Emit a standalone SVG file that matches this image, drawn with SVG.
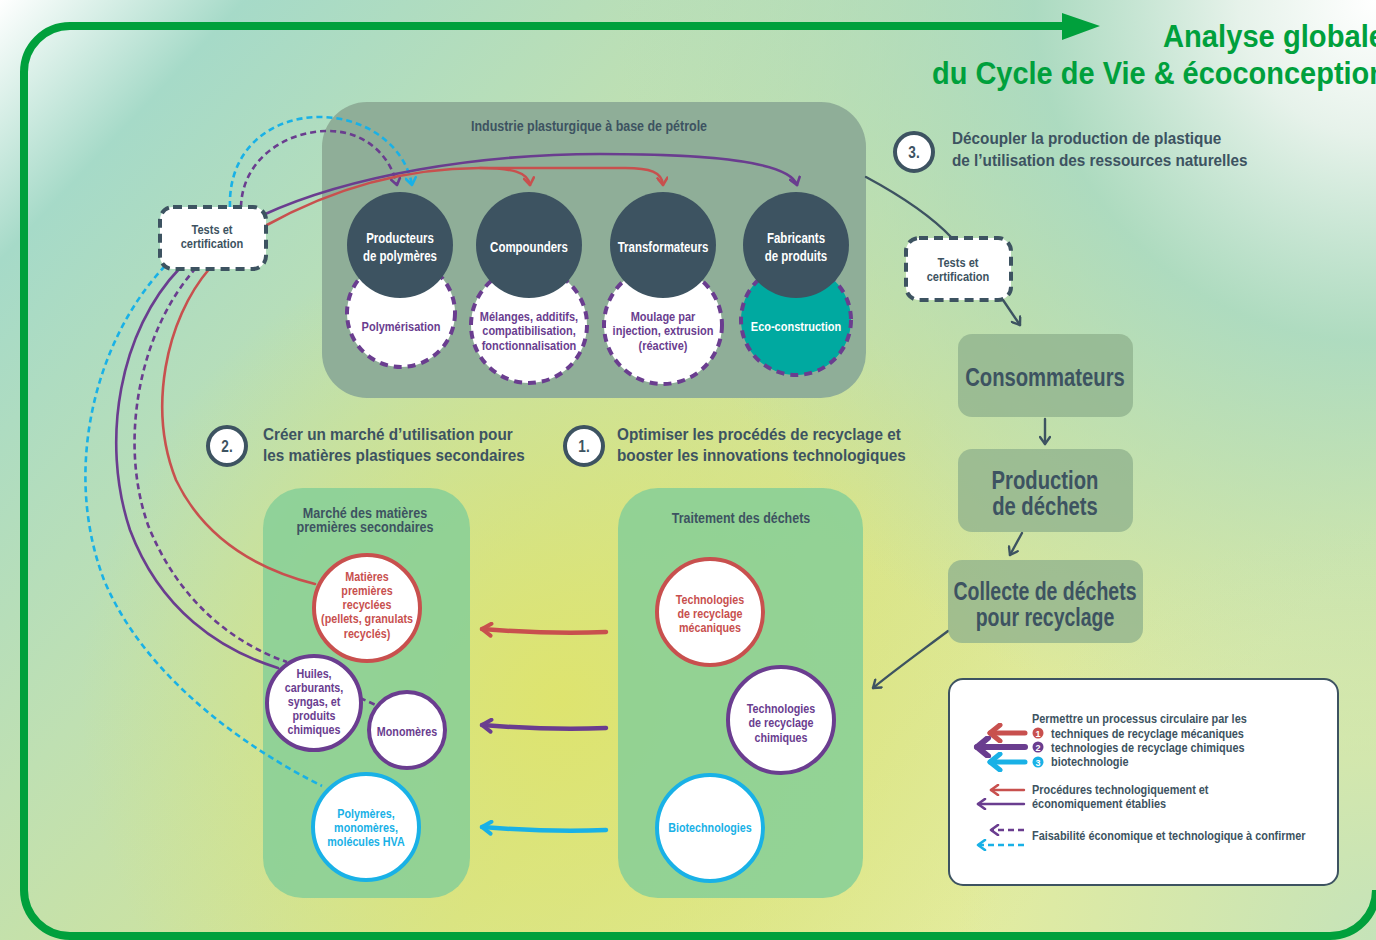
<svg xmlns="http://www.w3.org/2000/svg" width="1376" height="940" viewBox="0 0 1376 940">
<defs>
<linearGradient id="bg" x1="0" y1="0" x2="1000" y2="940" gradientUnits="userSpaceOnUse">
<stop offset="0" stop-color="#ffffff"/>
<stop offset="0.13" stop-color="#a6dac8"/>
<stop offset="0.4" stop-color="#bfe0b2"/>
<stop offset="0.7" stop-color="#d6e494"/>
<stop offset="1" stop-color="#e4ec9e"/>
</linearGradient>
<radialGradient id="yel" cx="560" cy="700" r="480" gradientUnits="userSpaceOnUse">
<stop offset="0" stop-color="#dfe46a" stop-opacity="0.9"/>
<stop offset="1" stop-color="#dfe46a" stop-opacity="0"/>
</radialGradient>
<radialGradient id="tr" cx="1376" cy="0" r="760" gradientUnits="userSpaceOnUse">
<stop offset="0" stop-color="#ffffff"/>
<stop offset="0.18" stop-color="#e6f2ea"/>
<stop offset="0.45" stop-color="#a6d9c6" stop-opacity="0.85"/>
<stop offset="1" stop-color="#a6d9c6" stop-opacity="0"/>
</radialGradient>
<radialGradient id="br" cx="1376" cy="940" r="420" gradientUnits="userSpaceOnUse">
<stop offset="0" stop-color="#c2e2bc" stop-opacity="0.9"/>
<stop offset="1" stop-color="#c2e2bc" stop-opacity="0"/>
</radialGradient>
<marker id="mR" viewBox="0 0 12 12" refX="10" refY="6" markerWidth="12" markerHeight="12" orient="auto" markerUnits="userSpaceOnUse"><path d="M3,1 L10,6 L3,11" fill="none" stroke="#c8504e" stroke-width="2.6" stroke-linecap="round" stroke-linejoin="round"/></marker>
<marker id="mP" viewBox="0 0 12 12" refX="10" refY="6" markerWidth="12" markerHeight="12" orient="auto" markerUnits="userSpaceOnUse"><path d="M3,1 L10,6 L3,11" fill="none" stroke="#6a3d8f" stroke-width="2.6" stroke-linecap="round" stroke-linejoin="round"/></marker>
<marker id="mC" viewBox="0 0 12 12" refX="10" refY="6" markerWidth="12" markerHeight="12" orient="auto" markerUnits="userSpaceOnUse"><path d="M3,1 L10,6 L3,11" fill="none" stroke="#19b1e6" stroke-width="2.6" stroke-linecap="round" stroke-linejoin="round"/></marker>
<marker id="mD" viewBox="0 0 12 12" refX="10" refY="6" markerWidth="12" markerHeight="12" orient="auto" markerUnits="userSpaceOnUse"><path d="M3,1 L10,6 L3,11" fill="none" stroke="#3d5361" stroke-width="2.4" stroke-linecap="round" stroke-linejoin="round"/></marker>
<marker id="mRb" viewBox="0 0 16 16" refX="13" refY="8" markerWidth="16" markerHeight="16" orient="auto" markerUnits="userSpaceOnUse"><path d="M4,2 L13,8 L4,14" fill="none" stroke="#c8504e" stroke-width="4" stroke-linecap="round" stroke-linejoin="round"/></marker>
<marker id="mPb" viewBox="0 0 16 16" refX="13" refY="8" markerWidth="16" markerHeight="16" orient="auto" markerUnits="userSpaceOnUse"><path d="M4,2 L13,8 L4,14" fill="none" stroke="#6a3d8f" stroke-width="4" stroke-linecap="round" stroke-linejoin="round"/></marker>
<marker id="mCb" viewBox="0 0 16 16" refX="13" refY="8" markerWidth="16" markerHeight="16" orient="auto" markerUnits="userSpaceOnUse"><path d="M4,2 L13,8 L4,14" fill="none" stroke="#19b1e6" stroke-width="4" stroke-linecap="round" stroke-linejoin="round"/></marker>
<marker id="mRL" viewBox="0 0 20 20" refX="16" refY="10" markerWidth="20" markerHeight="20" orient="auto" markerUnits="userSpaceOnUse"><path d="M6,2 L16,10 L6,18" fill="none" stroke="#c8504e" stroke-width="5" stroke-linecap="round" stroke-linejoin="round"/></marker>
<marker id="mPL" viewBox="0 0 22 22" refX="17" refY="11" markerWidth="22" markerHeight="22" orient="auto" markerUnits="userSpaceOnUse"><path d="M6,2 L17,11 L6,20" fill="none" stroke="#6a3d8f" stroke-width="6" stroke-linecap="round" stroke-linejoin="round"/></marker>
<marker id="mCL" viewBox="0 0 20 20" refX="16" refY="10" markerWidth="20" markerHeight="20" orient="auto" markerUnits="userSpaceOnUse"><path d="M6,2 L16,10 L6,18" fill="none" stroke="#19b1e6" stroke-width="5" stroke-linecap="round" stroke-linejoin="round"/></marker>
</defs>
<style>
text{font-family:"Liberation Sans",Arial,sans-serif;font-weight:bold}
.dk{fill:#3d5361}
.wt{fill:#ffffff}
.pu{fill:#6a3d8f}
.rd{fill:#c8504e}
.cy{fill:#19b1e6}
.c14{font-size:14px}
.c13{font-size:13px}
.c12{font-size:12.5px}
.lg{font-size:12px}
.mid{text-anchor:middle}
.hd{font-size:17px}
.big{font-size:25px}
.ttl{font-size:31px;fill:#00a03c}
.dark{fill:#3d5361}
.dash{fill:none;stroke:#6a3d8f;stroke-width:4;stroke-dasharray:8 6}
.tests{fill:#ffffff;stroke:#3d5361;stroke-width:4;stroke-dasharray:9 6}
.rc{fill:#ffffff;stroke:#c8504e;stroke-width:4}
.pc{fill:#ffffff;stroke:#6a3d8f;stroke-width:4}
.cc{fill:#ffffff;stroke:#19b1e6;stroke-width:4}
.num{fill:#ffffff;stroke:#3d5361;stroke-width:4}
.rbox{fill:#8db08c;fill-opacity:0.75}
.mbox{fill:#86cf98;fill-opacity:0.85}
.cr{fill:none;stroke:#c8504e;stroke-width:2.6;stroke-linecap:round}
.cp{fill:none;stroke:#6a3d8f;stroke-width:2.6;stroke-linecap:round}
.cpd{fill:none;stroke:#6a3d8f;stroke-width:2.6;stroke-dasharray:6 4}
.ccd{fill:none;stroke:#19b1e6;stroke-width:2.6;stroke-dasharray:6 4}
.cd{fill:none;stroke:#3d5361;stroke-width:2.4;stroke-linecap:round}
</style>
<rect width="1376" height="940" fill="url(#bg)"/>
<rect width="1376" height="940" fill="url(#yel)"/>
<rect width="1376" height="940" fill="url(#tr)"/>
<rect width="1376" height="940" fill="url(#br)"/>

<g id="frame">
<path d="M1066,26 H70 A46,46 0 0 0 24,72 V890 A46,46 0 0 0 70,936 H1330 A46,46 0 0 0 1376,890" fill="none" stroke="#00a03c" stroke-width="8"/>
<path d="M1062,13 L1100,26 L1062,40 Z" fill="#00a03c"/>
<text x="1163" y="47" class="ttl" textLength="222" lengthAdjust="spacingAndGlyphs">Analyse globale</text>
<text x="932" y="84" class="ttl" textLength="455" lengthAdjust="spacingAndGlyphs">du Cycle de Vie &amp; écoconception</text>
</g>

<g id="industrie">
<rect x="322" y="102" width="544" height="296" rx="45" fill="#8fae98"/>
<text transform="translate(589,131) scale(.89,1)" class="dk c14 mid">Industrie plasturgique à base de pétrole</text>
</g>

<g id="polymerisation">
<circle cx="401" cy="313" r="54" class="dash" style="fill:#fff"/>
<text transform="translate(401,331) scale(.88,1)" class="pu c12 mid">Polymérisation</text>
</g>
<g id="melanges">
<circle cx="529" cy="325" r="58" class="dash" style="fill:#fff"/>
<text transform="translate(529,321) scale(.88,1)" class="pu c12 mid">Mélanges, additifs,</text>
<text transform="translate(529,335) scale(.88,1)" class="pu c12 mid">compatibilisation,</text>
<text transform="translate(529,350) scale(.88,1)" class="pu c12 mid">fonctionnalisation</text>
</g>
<g id="moulage">
<circle cx="663" cy="325" r="59" class="dash" style="fill:#fff"/>
<text transform="translate(663,321) scale(.88,1)" class="pu c12 mid">Moulage par</text>
<text transform="translate(663,335) scale(.88,1)" class="pu c12 mid">injection, extrusion</text>
<text transform="translate(663,350) scale(.88,1)" class="pu c12 mid">(réactive)</text>
</g>
<g id="eco">
<circle cx="796" cy="320" r="55" class="dash" style="fill:#00a9a0"/>
<text transform="translate(796,331) scale(.88,1)" class="wt c12 mid">Eco-construction</text>
</g>

<g id="producteurs">
<circle cx="400" cy="245" r="53" class="dark"/>
<text transform="translate(400,243) scale(.82,1)" class="wt c14 mid">Producteurs</text>
<text transform="translate(400,261) scale(.82,1)" class="wt c14 mid">de polymères</text>
</g>
<g id="compounders">
<circle cx="529" cy="245" r="53" class="dark"/>
<text transform="translate(529,252) scale(.82,1)" class="wt c14 mid">Compounders</text>
</g>
<g id="transformateurs">
<circle cx="663" cy="245" r="53" class="dark"/>
<text transform="translate(663,252) scale(.82,1)" class="wt c14 mid">Transformateurs</text>
</g>
<g id="fabricants">
<circle cx="796" cy="245" r="53" class="dark"/>
<text transform="translate(796,243) scale(.82,1)" class="wt c14 mid">Fabricants</text>
<text transform="translate(796,261) scale(.82,1)" class="wt c14 mid">de produits</text>
</g>

<g id="marche">
<rect x="263" y="488" width="207" height="410" rx="40" class="mbox"/>
<text transform="translate(365,518) scale(.9,1)" class="dk c14 mid">Marché des matières</text>
<text transform="translate(365,532) scale(.9,1)" class="dk c14 mid">premières secondaires</text>
</g>
<g id="traitement">
<rect x="618" y="488" width="245" height="410" rx="40" class="mbox"/>
<text transform="translate(741,523) scale(.89,1)" class="dk c14 mid">Traitement des déchets</text>
</g>

<g id="connectors">
<path d="M866,177 C905,198 935,220 952,238" class="cd"/>
<path d="M1003,300 L1020,325" class="cd" marker-end="url(#mD)"/>
<path d="M1045,419 L1045,444" class="cd" marker-end="url(#mD)"/>
<path d="M1022,533 L1010,555" class="cd" marker-end="url(#mD)"/>
<path d="M948,631 C920,652 895,670 873,688" class="cd" marker-end="url(#mD)"/>

<path d="M230,207 C228,150 270,117 320,117 C365,117 405,145 412,185" class="ccd" marker-end="url(#mC)"/>
<path d="M241,207 C242,160 285,131 328,131 C365,131 390,155 397,185" class="cpd" marker-end="url(#mP)"/>
<path d="M263,215 C350,175 480,154 600,154 C720,154 790,163 797,185" class="cp" marker-end="url(#mP)"/>
<path d="M265,226 C330,190 400,168 480,168 C512,168 528,172 530,185" class="cr" marker-end="url(#mR)"/>
<path d="M480,168 L625,168 C650,168 662,172 663,185" class="cr" marker-end="url(#mR)"/>

<path d="M165,266 C95,340 62,470 104,580 C146,680 250,750 322,786" class="ccd"/>
<path d="M180,268 C120,330 100,440 130,530 C160,610 220,650 278,668" class="cp"/>
<path d="M196,268 C140,330 118,440 148,525 C178,600 232,643 287,662" class="cpd"/>
<path d="M210,268 C165,320 148,410 176,480 C205,540 260,570 315,584" class="cr"/>
<path d="M360,698 L378,706" class="cpd"/>

<path d="M606,632 C560,634 520,632 482,629" fill="none" stroke="#c8504e" stroke-width="4.5" stroke-linecap="round" marker-end="url(#mRb)"/>
<path d="M606,728 C560,730 520,728 482,725" fill="none" stroke="#6a3d8f" stroke-width="4.5" stroke-linecap="round" marker-end="url(#mPb)"/>
<path d="M606,830 C560,832 520,830 482,827" fill="none" stroke="#19b1e6" stroke-width="4.5" stroke-linecap="round" marker-end="url(#mCb)"/>
</g>

<g id="tests-gauche">
<rect x="160" y="207" width="106" height="62" rx="13" class="tests"/>
<text transform="translate(212,234) scale(.85,1)" class="dk c13 mid">Tests et</text>
<text transform="translate(212,248) scale(.85,1)" class="dk c13 mid">certification</text>
</g>
<g id="tests-droite">
<rect x="906" y="238" width="105" height="62" rx="13" class="tests"/>
<text transform="translate(958,267) scale(.85,1)" class="dk c13 mid">Tests et</text>
<text transform="translate(958,281) scale(.85,1)" class="dk c13 mid">certification</text>
</g>

<g id="objectif3">
<circle cx="914" cy="152" r="19" class="num"/>
<text transform="translate(914,158) scale(.85,1)" class="dk mid" style="font-size:16px">3.</text>
<text transform="translate(952,144) scale(.9,1)" class="dk hd">Découpler la production de plastique</text>
<text transform="translate(952,166) scale(.9,1)" class="dk hd">de l’utilisation des ressources naturelles</text>
</g>
<g id="objectif2">
<circle cx="227" cy="446" r="19" class="num"/>
<text transform="translate(227,452) scale(.85,1)" class="dk mid" style="font-size:16px">2.</text>
<text transform="translate(263,440) scale(.9,1)" class="dk hd">Créer un marché d’utilisation pour</text>
<text transform="translate(263,461) scale(.9,1)" class="dk hd">les matières plastiques secondaires</text>
</g>
<g id="objectif1">
<circle cx="584" cy="446" r="19" class="num"/>
<text transform="translate(584,452) scale(.85,1)" class="dk mid" style="font-size:16px">1.</text>
<text transform="translate(617,440) scale(.9,1)" class="dk hd">Optimiser les procédés de recyclage et</text>
<text transform="translate(617,461) scale(.9,1)" class="dk hd">booster les innovations technologiques</text>
</g>

<g id="consommateurs">
<rect x="958" y="334" width="175" height="83" rx="14" class="rbox"/>
<text transform="translate(1045,386) scale(.81,1)" class="dk big mid">Consommateurs</text>
</g>
<g id="production">
<rect x="958" y="449" width="175" height="83" rx="14" class="rbox"/>
<text transform="translate(1045,489) scale(.81,1)" class="dk big mid">Production</text>
<text transform="translate(1045,515) scale(.81,1)" class="dk big mid">de déchets</text>
</g>
<g id="collecte">
<rect x="948" y="560" width="195" height="83" rx="14" class="rbox"/>
<text transform="translate(1045,600) scale(.78,1)" class="dk big mid">Collecte de déchets</text>
<text transform="translate(1045,626) scale(.78,1)" class="dk big mid">pour recyclage</text>
</g>

<g id="matieres">
<circle cx="367" cy="608" r="53" class="rc"/>
<text transform="translate(367,581) scale(.86,1)" class="rd c12 mid">Matières</text>
<text transform="translate(367,595) scale(.86,1)" class="rd c12 mid">premières</text>
<text transform="translate(367,609) scale(.86,1)" class="rd c12 mid">recyclées</text>
<text transform="translate(367,623) scale(.86,1)" class="rd c12 mid">(pellets, granulats</text>
<text transform="translate(367,638) scale(.86,1)" class="rd c12 mid">recyclés)</text>
</g>
<g id="huiles">
<circle cx="314" cy="703" r="47" class="pc"/>
<text transform="translate(314,678) scale(.86,1)" class="pu c12 mid">Huiles,</text>
<text transform="translate(314,692) scale(.86,1)" class="pu c12 mid">carburants,</text>
<text transform="translate(314,706) scale(.86,1)" class="pu c12 mid">syngas, et</text>
<text transform="translate(314,720) scale(.86,1)" class="pu c12 mid">produits</text>
<text transform="translate(314,734) scale(.86,1)" class="pu c12 mid">chimiques</text>
</g>
<g id="monomeres">
<circle cx="407" cy="730" r="38" class="pc"/>
<text transform="translate(407,736) scale(.86,1)" class="pu c12 mid">Monomères</text>
</g>
<g id="polymeres">
<circle cx="366" cy="827" r="53" class="cc"/>
<text transform="translate(366,818) scale(.86,1)" class="cy c12 mid">Polymères,</text>
<text transform="translate(366,832) scale(.86,1)" class="cy c12 mid">monomères,</text>
<text transform="translate(366,846) scale(.86,1)" class="cy c12 mid">molécules HVA</text>
</g>

<g id="tech-meca">
<circle cx="710" cy="612" r="53" class="rc"/>
<text transform="translate(710,604) scale(.86,1)" class="rd c12 mid">Technologies</text>
<text transform="translate(710,618) scale(.86,1)" class="rd c12 mid">de recyclage</text>
<text transform="translate(710,632) scale(.86,1)" class="rd c12 mid">mécaniques</text>
</g>
<g id="tech-chim">
<circle cx="781" cy="720" r="53" class="pc"/>
<text transform="translate(781,713) scale(.86,1)" class="pu c12 mid">Technologies</text>
<text transform="translate(781,727) scale(.86,1)" class="pu c12 mid">de recyclage</text>
<text transform="translate(781,742) scale(.86,1)" class="pu c12 mid">chimiques</text>
</g>
<g id="biotech">
<circle cx="710" cy="828" r="53" class="cc"/>
<text transform="translate(710,832) scale(.86,1)" class="cy c12 mid">Biotechnologies</text>
</g>

<g id="legende">
<rect x="949" y="679" width="389" height="206" rx="14" fill="#ffffff" stroke="#3d5361" stroke-width="2"/>
<path d="M1025,733 L990,733" fill="none" stroke="#c8504e" stroke-width="5" stroke-linecap="round" marker-end="url(#mRL)"/>
<path d="M1025,747 L977,747" fill="none" stroke="#6a3d8f" stroke-width="6" stroke-linecap="round" marker-end="url(#mPL)"/>
<path d="M1025,762 L990,762" fill="none" stroke="#19b1e6" stroke-width="5" stroke-linecap="round" marker-end="url(#mCL)"/>
<text transform="translate(1032,723) scale(.91,1)" class="dk lg">Permettre un processus circulaire par les</text>
<circle cx="1038" cy="733" r="5.5" fill="#c8504e"/>
<text x="1038" y="736.5" class="wt mid" style="font-size:9px">1</text>
<text transform="translate(1051,738) scale(.91,1)" class="dk lg">techniques de recyclage mécaniques</text>
<circle cx="1038" cy="747" r="5.5" fill="#6a3d8f"/>
<text x="1038" y="750.5" class="wt mid" style="font-size:9px">2</text>
<text transform="translate(1051,752) scale(.91,1)" class="dk lg">technologies de recyclage chimiques</text>
<circle cx="1038" cy="762" r="5.5" fill="#19b1e6"/>
<text x="1038" y="765.5" class="wt mid" style="font-size:9px">3</text>
<text transform="translate(1051,766) scale(.91,1)" class="dk lg">biotechnologie</text>
<path d="M1024,790 L991,790" class="cr" style="stroke-width:2.4" marker-end="url(#mR)"/>
<path d="M1024,804 L978,804" class="cp" style="stroke-width:2.4" marker-end="url(#mP)"/>
<text transform="translate(1032,794) scale(.91,1)" class="dk lg">Procédures technologiquement et</text>
<text transform="translate(1032,808) scale(.91,1)" class="dk lg">économiquement établies</text>
<path d="M1024,830 L991,830" class="cpd" style="stroke-width:2.4" marker-end="url(#mP)"/>
<path d="M1024,845 L978,845" class="ccd" style="stroke-width:2.4" marker-end="url(#mC)"/>
<text transform="translate(1032,840) scale(.91,1)" class="dk lg">Faisabilité économique et technologique à confirmer</text>
</g>
</svg>
